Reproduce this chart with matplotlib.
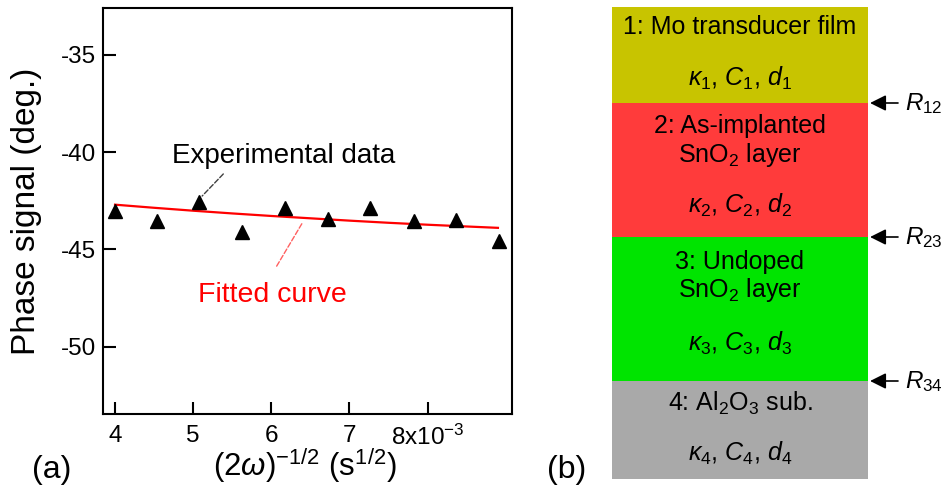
import matplotlib.pyplot as plt
from matplotlib.ticker import FixedLocator, FixedFormatter

plt.rcParams['font.family'] = ['Liberation Sans', 'DejaVu Sans']
plt.rcParams['mathtext.fontset'] = 'custom'
plt.rcParams['mathtext.rm'] = 'Liberation Sans'
plt.rcParams['mathtext.it'] = 'Liberation Sans:italic'
plt.rcParams['mathtext.bf'] = 'Liberation Sans:bold'
plt.rcParams['axes.unicode_minus'] = False

# === (a) phase signal data ===
omega_x = [3.996e-3, 4.54e-3, 5.08e-3, 5.63e-3, 6.17e-3,
           6.73e-3, 7.26e-3, 7.82e-3, 8.36e-3, 8.92e-3]
phase_deg = [-43.03, -43.54, -42.55, -44.09, -42.87,
             -43.45, -42.89, -43.53, -43.50, -44.56]

fit_x = [4.0e-3, 4.5e-3, 5.0e-3, 5.5e-3, 6.0e-3, 6.5e-3,
         7.0e-3, 7.5e-3, 8.0e-3, 8.5e-3, 8.9e-3]
fit_y = [-42.70, -42.86, -43.01, -43.15, -43.28, -43.40,
         -43.52, -43.63, -43.73, -43.82, -43.89]

x_ticks = [4e-3, 5e-3, 6e-3, 7e-3, 8e-3]
x_ticklabels = ['4', '5', '6', '7', '8x10$^{-3}$']
y_ticks = [-50, -45, -40, -35]

# === (b) layer model ===
layer_heights = [96, 134, 144, 98]
layer_colors = ['#C8C400', '#FF3B3B', '#00E400', '#A9A9A9']
layer_lines = [
    ['1: Mo transducer film', r'$\kappa_1$, $C_1$, $d_1$'],
    ['2: As-implanted', 'SnO$_2$ layer', r'$\kappa_2$, $C_2$, $d_2$'],
    ['3: Undoped', 'SnO$_2$ layer', r'$\kappa_3$, $C_3$, $d_3$'],
    ['4: Al$_2$O$_3$ sub.', r'$\kappa_4$, $C_4$, $d_4$'],
]
layer_line_y = [[20, 71], [119, 148, 198], [255, 283, 336], [396, 446]]
resist_labels = ['$R_{12}$', '$R_{23}$', '$R_{34}$']

fig = plt.figure(figsize=(9.47, 4.94), dpi=100)

# --- panel (a) ---
ax = fig.add_axes([103 / 947, 80 / 494, 409 / 947, 406 / 494])
ax.plot(fit_x, fit_y, color='#FF0000', lw=1.6, zorder=2)
ax.plot(omega_x, phase_deg, ls='none', marker='^', ms=10.5,
        color='black', zorder=3)

ax.set_xlim(3.846e-3, 9.08e-3)
ax.set_ylim(-53.45, -32.6)
ax.xaxis.set_major_locator(FixedLocator(x_ticks))
ax.xaxis.set_major_formatter(FixedFormatter(x_ticklabels))
ax.set_yticks(y_ticks)
ax.tick_params(direction='in', length=9, width=1.5, labelsize=17.5)
ax.tick_params(axis='x', pad=8)
ax.tick_params(axis='y', pad=5)
for sp in ax.spines.values():
    sp.set_linewidth(1.5)

ax.set_ylabel('Phase signal (deg.)', fontsize=24)
ax.yaxis.set_label_coords(-0.15, 0.5)
ax.set_xlabel(r'(2$\omega$)$^{-1/2}$ (s$^{1/2}$)', fontsize=22.5)
ax.xaxis.set_label_coords(0.494, -0.08)

ax.text(4.73e-3, -40.55, 'Experimental data', fontsize=20, ha='left', va='baseline')
ax.annotate('', xy=(5.09e-3, -42.36), xytext=(5.41e-3, -41.02),
            arrowprops=dict(arrowstyle='-', ls='--', color='#404040', lw=1))
ax.text(5.06e-3, -47.68, 'Fitted curve', fontsize=20.5, color='#FF0000',
        ha='left', va='baseline')
ax.annotate('', xy=(6.42e-3, -43.48), xytext=(6.05e-3, -45.98),
            arrowprops=dict(arrowstyle='-', ls='--', color='#FF6060', lw=1))

# --- panel (b) ---
ax2 = fig.add_axes([611.7 / 947, 15 / 494, 256.3 / 947, 472 / 494])
tops = [sum(layer_heights[:i]) for i in range(len(layer_heights))]
ax2.bar(0.5, layer_heights, width=1, bottom=tops, color=layer_colors,
        edgecolor='none')
ax2.set_xlim(0, 1)
ax2.set_ylim(sum(layer_heights), 0)
ax2.axis('off')

for lines, ys in zip(layer_lines, layer_line_y):
    for s, y in zip(lines, ys):
        ax2.text(0.5, y, s, fontsize=18, ha='center', va='center')

for lab, y in zip(resist_labels, tops[1:]):
    ax2.annotate('', xy=(1.008, y), xytext=(1.117, y),
                 arrowprops=dict(arrowstyle='-|>', color='black', lw=1.2,
                                 mutation_scale=24, shrinkA=0, shrinkB=0),
                 annotation_clip=False)
    ax2.text(1.145, y + 7, lab, fontsize=17.5, ha='left', va='baseline',
             clip_on=False)

fig.text(52 / 947, 1 - 470 / 494, '(a)', fontsize=23, ha='center', va='center')
fig.text(567 / 947, 1 - 470 / 494, '(b)', fontsize=23, ha='center', va='center')

fig.savefig('out.png', dpi=100)
